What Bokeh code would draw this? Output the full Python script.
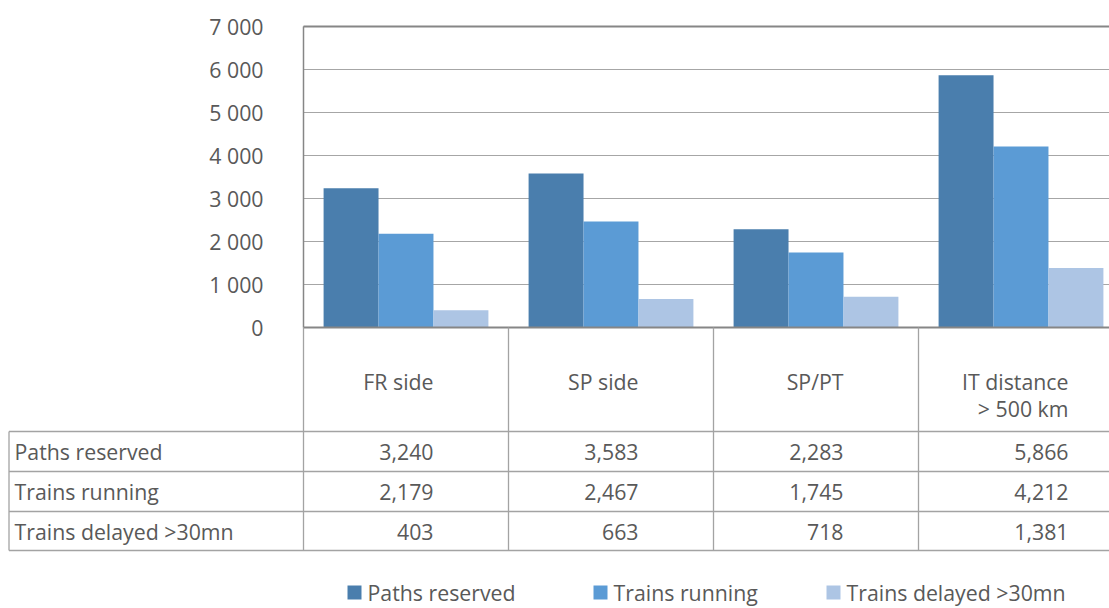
from bokeh.plotting import figure
from bokeh.models import Range1d, ColumnDataSource
from bokeh.core.properties import value
from bokeh.embed import file_html
from bokeh.resources import INLINE

# ---------------- data ----------------
categories = ["FR side", "SP side", "SP/PT", "IT distance > 500 km"]
header_lines = [["FR side"], ["SP side"], ["SP/PT"], ["IT distance", "> 500 km"]]
series_names = ["Paths reserved", "Trains running", "Trains delayed >30mn"]
paths_reserved = [3240, 3583, 2283, 5866]
trains_running = [2179, 2467, 1745, 4212]
trains_delayed = [403, 663, 718, 1381]
y_ticks = [0, 1000, 2000, 3000, 4000, 5000, 6000, 7000]
y_tick_labels = ["0", "1 000", "2 000", "3 000", "4 000", "5 000", "6 000", "7 000"]

# ---------------- styles / layout ----------------
FONT = "Open Sans"
FS = "21.3px"
TXT = "#595959"
GRID = "#a6a6a6"
DARK_LINE = "#868686"
TABLE_LINE = "#a3a3a3"
colors = ["#4a7ead", "#5b9bd5", "#adc5e4"]
series = [paths_reserved, trains_running, trains_delayed]

W, H = 1109, 608
FRAME_LEFT_PX = 303     # left of bar area
FRAME_TOP_PX = 26       # y of 7000
ZERO_PX = 327           # y of 0
CAT_PX = 205.0          # pixels per category
YMAX = 7000
K = YMAX / (ZERO_PX - FRAME_TOP_PX)   # value units per pixel


def cx(px):
    """pixel x -> category units"""
    return (px - FRAME_LEFT_PX) / CAT_PX


x_start, x_end = cx(0), cx(W)

p = figure(width=W, height=H, x_range=Range1d(x_start, x_end),
           y_range=Range1d(-(H - ZERO_PX) * K, YMAX + FRAME_TOP_PX * K),
           output_backend="svg", toolbar_location=None,
           min_border_left=0, min_border_right=0, min_border_top=0, min_border_bottom=0)
p.extra_y_ranges = {"px": Range1d(H, 0)}
p.outline_line_color = None
p.axis.visible = False
p.grid.visible = False
p.background_fill_color = "white"
p.border_fill_color = "white"

# gridlines and axis labels
p.segment(x0=[0] * len(y_ticks), y0=y_ticks, x1=[x_end] * len(y_ticks), y1=y_ticks,
          line_color=GRID, line_width=1)
p.text(x=[cx(263)] * len(y_ticks), y=y_ticks, text=y_tick_labels, text_align="right",
       text_baseline="middle", text_font=value(FONT), text_font_size=FS, text_color=TXT)

# bars
offsets = [-0.268, 0.0, 0.268]
for k in range(3):
    src = ColumnDataSource(dict(x=[i + 0.5 + offsets[k] for i in range(len(categories))],
                                top=series[k]))
    p.vbar(x="x", top="top", width=0.268, bottom=0, source=src,
           fill_color=colors[k], line_color=None)

# frame lines
p.segment(x0=[0, 0], y0=[YMAX, 0], x1=[x_end, x_end], y1=[YMAX, 0],
          line_color=DARK_LINE, line_width=2)
p.segment(x0=[0], y0=[0], x1=[0], y1=[YMAX], line_color=DARK_LINE, line_width=1.5)

# ---------------- data table (pixel y) ----------------
row_lines = [431, 471, 511, 550]
left_x = cx(8.5)
n = len(categories)
p.segment(x0=list(range(n)), y0=[ZERO_PX] * n, x1=list(range(n)), y1=[row_lines[-1]] * n,
          line_color=TABLE_LINE, line_width=1.3, y_range_name="px")
p.segment(x0=[left_x], y0=[row_lines[0]], x1=[left_x], y1=[row_lines[-1]],
          line_color=TABLE_LINE, line_width=1.3, y_range_name="px")
p.segment(x0=[left_x] * 4, y0=row_lines, x1=[x_end] * 4, y1=row_lines,
          line_color=TABLE_LINE, line_width=1.3, y_range_name="px")

text_right = [cx(433), cx(638), cx(843), cx(1068)]
for i, lines in enumerate(header_lines):
    for j, ln in enumerate(lines):
        p.text(x=[text_right[i]], y=[381 + 27 * j], text=[ln], text_align="right",
               text_baseline="middle", text_font=value(FONT), text_font_size=FS,
               text_color=TXT, y_range_name="px")

row_y = [451, 491, 531]
for k in range(3):
    p.text(x=[cx(14)], y=[row_y[k]], text=[series_names[k]], text_align="left",
           text_baseline="middle", text_font=value(FONT), text_font_size=FS,
           text_color=TXT, y_range_name="px")
    p.text(x=text_right, y=[row_y[k]] * n, text=[f"{v:,}" for v in series[k]],
           text_align="right", text_baseline="middle", text_font=value(FONT),
           text_font_size=FS, text_color=TXT, y_range_name="px")

# ---------------- legend ----------------
leg_sq = [354, 600, 833]
leg_y = 592
for k in range(3):
    p.scatter(x=[cx(leg_sq[k])], y=[leg_y], marker="square", size=14,
              fill_color=colors[k], line_color=None, y_range_name="px")
    p.text(x=[cx(leg_sq[k] + 13)], y=[leg_y], text=[series_names[k]], text_align="left",
           text_baseline="middle", text_font=value(FONT), text_font_size=FS,
           text_color=TXT, y_range_name="px")

open("out.html", "w").write(file_html(p, INLINE))
